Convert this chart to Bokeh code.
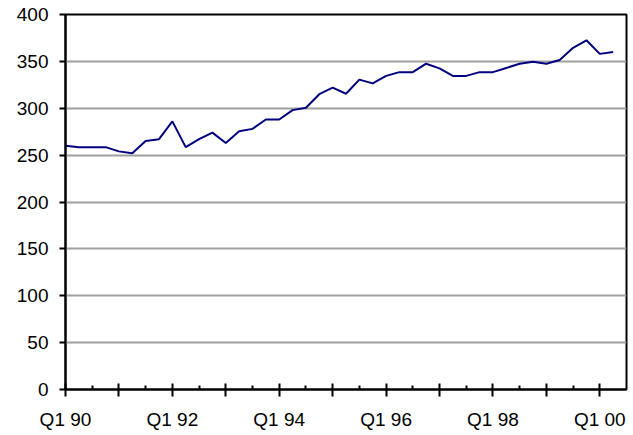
from bokeh.plotting import figure
from bokeh.models import FixedTicker, Range1d
from bokeh.embed import file_html
from bokeh.resources import INLINE

# quarterly values, Q1 1990 .. Q2 2000
values = [260, 258.5, 258.5, 258.5, 254, 252, 265, 267, 286, 258.5,
          267, 274, 263, 275.5, 278, 288, 288, 298, 300.5, 315,
          322, 315.5, 330.5, 326.5, 334.5, 338.5, 338.5, 347.5, 342.5, 334.5,
          334.5, 338.5, 338.5, 343, 347.5, 349.5, 347.5, 351.5, 364.5, 372.5,
          358, 360]
x_idx = list(range(len(values)))
year_ticks = list(range(0, 41, 4))
half_ticks = list(range(2, 41, 4))
tick_labels = {0: "Q1 90", 4: "", 8: "Q1 92", 12: "", 16: "Q1 94", 20: "",
               24: "Q1 96", 28: "", 32: "Q1 98", 36: "", 40: "Q1 00"}
y_ticks = [0, 50, 100, 150, 200, 250, 300, 350, 400]

p = figure(frame_width=561, frame_height=375, output_backend="svg",
           toolbar_location=None, x_range=Range1d(0, 42), y_range=Range1d(0, 400),
           min_border_left=65, min_border_top=14, min_border_right=5,
           min_border_bottom=40, background_fill_color="white",
           border_fill_color="white")

p.line(x_idx, values, line_color="#000080", line_width=2)

font = "Liberation Sans"
p.outline_line_color = "black"
p.outline_line_width = 2

xa = p.xaxis[0]
xa.ticker = FixedTicker(ticks=year_ticks, minor_ticks=half_ticks)
xa.major_label_overrides = tick_labels
xa.axis_line_color = "black"
xa.axis_line_width = 2
xa.major_tick_line_color = "black"
xa.major_tick_line_width = 2
xa.major_tick_in = 6
xa.major_tick_out = 7
xa.minor_tick_line_color = "black"
xa.minor_tick_line_width = 2
xa.minor_tick_in = 4
xa.minor_tick_out = 0
xa.major_label_text_font = font
xa.major_label_text_font_size = "19px"
xa.major_label_text_color = "black"
xa.major_label_standoff = 12

ya = p.yaxis[0]
ya.ticker = FixedTicker(ticks=y_ticks)
ya.axis_line_color = "black"
ya.axis_line_width = 2
ya.major_tick_line_color = "black"
ya.major_tick_line_width = 2
ya.major_tick_in = 0
ya.major_tick_out = 6
ya.minor_tick_line_color = None
ya.major_label_text_font = font
ya.major_label_text_font_size = "19px"
ya.major_label_text_color = "black"
ya.major_label_standoff = 11

p.xgrid.grid_line_color = None
p.ygrid.grid_line_color = "#a0a0a0"
p.ygrid.grid_line_width = 2
p.ygrid.ticker = FixedTicker(ticks=[50, 100, 150, 200, 250, 300, 350])

open("out.html", "w").write(file_html(p, INLINE))
